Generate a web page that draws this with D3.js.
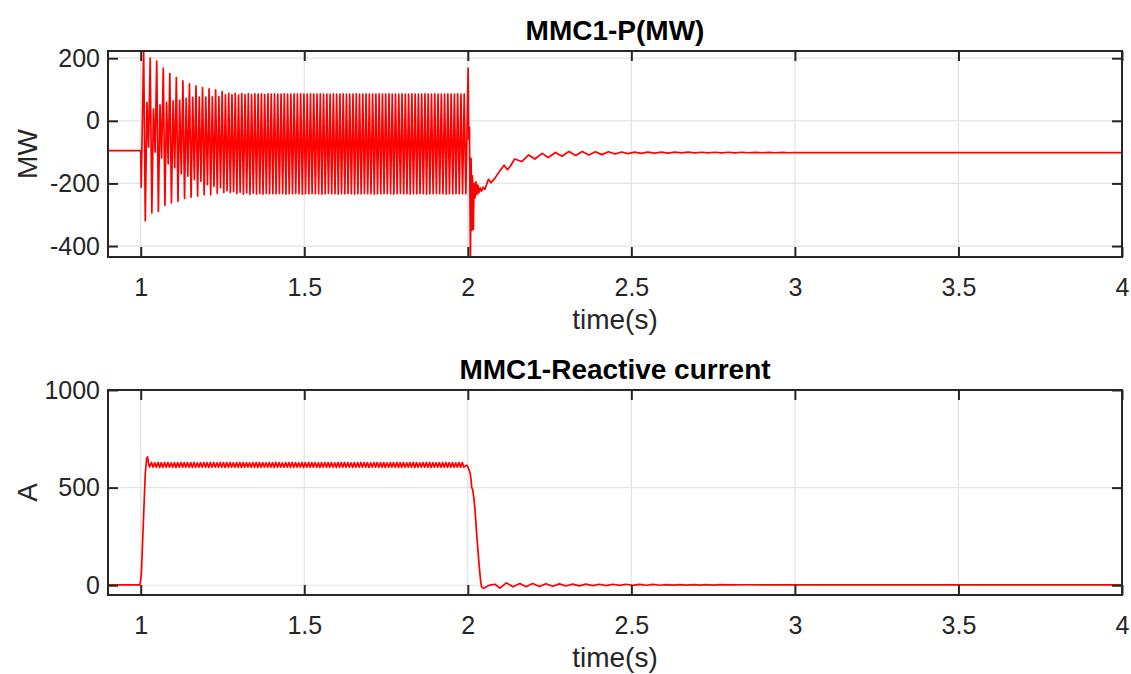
<!DOCTYPE html>
<html>
<head>
<meta charset="utf-8">
<script src="https://cdn.jsdelivr.net/npm/d3@7"></script>
<style>
body { margin: 0; background: #fff; }
svg { font-family: "Liberation Sans", Arial, sans-serif; }
</style>
</head>
<body>
<svg id="fig" width="1131" height="674"></svg>
<script>
// x axis shared by both panels
var xTicks = [1, 1.5, 2, 2.5, 3, 3.5, 4]
var xDomain = [0.9, 4]

// ---- MMC1-P(MW) ----
var pTicks = [-400, -200, 0, 200]
var pDomain = [-435, 223]
var pBefore = [[0.9, -95], [1.0, -95], [1.0015, -212]]
// oscillation 1..2 s, one peak and one trough every 10 ms
var pStart = 1.009, pCycle = 0.01
var pPeaks = [228, 59, 200, 38, 191, 51, 168, 59, 151, 64, 138, 66, 128, 72, 118, 75, 112, 76, 106, 76, 102, 77, 99, 77, 93, 83, 88, 83,
    88, 82, 87, 84, 87, 84, 86, 85, 86, 84, 86, 85,
    86, 85, 85, 86, 85, 85, 86, 85, 86, 85, 85, 86,
    85, 85, 86, 85, 85, 85, 86, 85, 85, 86, 85, 85,
    85, 86, 85, 85, 86, 85, 85, 85, 86, 85, 85, 86,
    85, 85, 85, 86, 85, 85, 86, 85, 85, 85, 86, 85,
    85, 86, 85, 85, 85, 86, 85, 85, 86, 85, 85]
var pTroughs = [-319, -84, -294, -100, -289, -119, -270, -138, -262, -150, -257, -169, -248, -177, -244, -188, -240, -193, -236, -204, -236, -209, -231, -214, -229, -223, -229,
    -226, -232, -228, -234, -230, -235, -231, -234, -232, -234, -232, -233,
    -233, -233, -232, -233, -234, -233, -233, -232, -233, -234, -233, -233,
    -232, -233, -233, -234, -233, -232, -233, -233, -234, -233, -233, -232,
    -233, -234, -233, -233, -232, -233, -233, -234, -233, -233, -232, -233,
    -233, -234, -233, -232, -233, -233, -234, -233, -233, -232, -233, -234,
    -233, -233, -232, -233, -233, -234, -233, -233, -232, -233, -233, -233]
var pAfter = [[2.001, 168], [2.003, -60], [2.005, -20], [2.008, -450], [2.010, -120], [2.012, -350], [2.014, -175], [2.017, -347],
    [2.019, -200], [2.022, -246], [2.025, -195], [2.028, -236], [2.031, -205], [2.034, -230], [2.038, -214], [2.042, -225],
    [2.047, -212], [2.052, -219], [2.057, -205], [2.063, -187], [2.071, -198], [2.083, -183], [2.097, -161], [2.111, -142],
    [2.121, -156], [2.130, -145], [2.143, -122], [2.165, -130], [2.186, -109], [2.205, -122], [2.227, -104], [2.246, -117],
    [2.268, -101], [2.288, -113], [2.309, -98], [2.330, -111], [2.350, -98], [2.370, -109], [2.390, -99], [2.410, -108],
    [2.430, -99], [2.450, -106], [2.470, -99.5], [2.490, -105], [2.510, -100], [2.530, -104], [2.550, -100], [2.571, -103],
    [2.592, -100], [2.612, -103], [2.633, -100], [2.653, -102.5], [2.674, -100], [2.694, -102.5], [2.715, -100.5], [2.735, -102.5],
    [2.756, -100.5], [2.776, -102.5], [2.797, -100.5], [2.817, -102.5], [2.838, -100.5], [2.858, -102], [2.879, -101], [2.900, -102],
    [2.920, -101], [2.941, -102], [2.961, -101], [2.982, -102], [3.0, -101.5], [3.5, -101.5], [4.0, -101.5]]

// ---- MMC1-Reactive current ----
var iTicks = [0, 500, 1000]
var iDomain = [-50, 1000]
var iBefore = [[0.9, 2], [0.997, 2], [0.999, 12], [1.002, 60], [1.006, 232], [1.010, 403], [1.014, 574], [1.018, 648],
    [1.021, 657], [1.024, 625], [1.027, 606]]
// 100 Hz ripple on the plateau
var iStart = 1.033, iCycle = 0.01
var iPeaks = [629, 627, 628, 628, 629, 628, 627, 628, 628, 629, 628, 628,
    628, 629, 627, 628, 628, 628, 629, 628, 627, 628, 629, 628,
    628, 627, 628, 629, 628, 628, 627, 628, 629, 628, 628, 627,
    628, 628, 629, 628, 627, 628, 628, 629, 628, 627, 628, 628,
    629, 628, 628, 627, 628, 629, 628, 628, 627, 628, 628, 629,
    628, 627, 628, 628, 629, 628, 628, 627, 628, 629, 628, 628,
    627, 628, 628, 629, 628, 628, 627, 628, 629, 628, 627, 628,
    628, 629, 628, 627, 628, 628, 629, 628, 628, 627, 628, 629]
var iTroughs = [604, 605, 603, 604, 604, 605, 604, 603, 604, 605, 604, 604,
    603, 604, 605, 604, 604, 603, 604, 605, 604, 604, 603, 604,
    605, 604, 604, 603, 604, 605, 604, 604, 603, 604, 605, 604,
    604, 603, 604, 605, 604, 604, 603, 604, 605, 604, 603, 604,
    604, 605, 604, 603, 604, 604, 605, 604, 603, 604, 604, 605,
    604, 603, 604, 605, 604, 604, 603, 604, 605, 604, 604, 603,
    604, 605, 604, 603, 604, 604, 605, 604, 603, 604, 605, 604,
    604, 603, 604, 605, 604, 604, 603, 604, 605, 604, 604, 605]
var iAfter = [[1.997, 615], [2.000, 606], [2.004, 590], [2.007, 575], [2.010, 540], [2.012, 500], [2.015, 490], [2.019, 440],
    [2.022, 386], [2.027, 266], [2.031, 180], [2.035, 95], [2.039, 25], [2.042, -8], [2.048, -16], [2.058, -6],
    [2.068, 1], [2.083, 5], [2.098, -15], [2.118, 12], [2.138, -8], [2.159, 9], [2.178, -8], [2.198, 9],
    [2.219, -6], [2.239, 8], [2.260, -5], [2.280, 7], [2.300, -4], [2.320, 6], [2.341, -3], [2.361, 6],
    [2.382, -2], [2.402, 5], [2.423, -2], [2.443, 5], [2.464, -1], [2.484, 5], [2.505, -1], [2.525, 4],
    [2.546, 0], [2.566, 4], [2.587, 0], [2.607, 3.5], [2.628, 0.5], [2.648, 3.5], [2.669, 0.5], [2.690, 3],
    [2.710, 1], [2.730, 3], [2.750, 1], [2.770, 3], [2.800, 1.5], [2.850, 2.5], [3.0, 2], [4.0, 2]]

// stitch before / zigzag / after into one series
function buildSeries(before, start, cycle, peaks, troughs, after) {
    var pts = before.slice()
    for (var i = 0, n = peaks.length; i < n; i++) {
        pts.push([start + i * cycle, peaks[i]])
        if (i < troughs.length) pts.push([start + i * cycle + cycle / 2, troughs[i]])
    }
    return pts.concat(after)
}

var svg = d3.select("#fig")
var left = 108, right = 1122
var tickFont = 25, labelFont = 28

function panel(o) {
    var x = d3.scaleLinear().domain(xDomain).range([left, right])
    var y = d3.scaleLinear().domain(o.yDomain).range([o.bottom, o.top])
    var g = svg.append("g")

    // grid
    g.selectAll("line.gx").data(xTicks).enter().append("line")
        .attr("x1", d => x(d)).attr("x2", d => x(d))
        .attr("y1", o.top).attr("y2", o.bottom)
        .attr("stroke", "#e3e3e3").attr("stroke-width", 1.2)
    g.selectAll("line.gy").data(o.yTicks).enter().append("line")
        .attr("x1", left).attr("x2", right)
        .attr("y1", d => y(d)).attr("y2", d => y(d))
        .attr("stroke", "#e3e3e3").attr("stroke-width", 1.2)

    // data
    var clipId = "clip" + o.id
    g.append("clipPath").attr("id", clipId).append("rect")
        .attr("x", left).attr("y", o.top).attr("width", right - left).attr("height", o.bottom - o.top)
    g.append("path")
        .datum(o.data)
        .attr("clip-path", "url(#" + clipId + ")")
        .attr("fill", "none")
        .attr("stroke", "#ff0000")
        .attr("stroke-width", 1.7)
        .attr("stroke-linejoin", "round")
        .attr("d", d3.line().x(d => x(d[0])).y(d => y(d[1])))

    // axes (ticks point inward, mirrored on top/right)
    var fmt = d3.format("")
    var xb = g.append("g").attr("transform", "translate(0," + o.bottom + ")")
        .call(d3.axisBottom(x).tickValues(xTicks).tickSize(-10).tickSizeOuter(0).tickPadding(21).tickFormat(fmt))
    var xt = g.append("g").attr("transform", "translate(0," + o.top + ")")
        .call(d3.axisTop(x).tickValues(xTicks).tickSize(-10).tickSizeOuter(0).tickFormat(""))
    var yl = g.append("g").attr("transform", "translate(" + left + ",0)")
        .call(d3.axisLeft(y).tickValues(o.yTicks).tickSize(-10).tickSizeOuter(0).tickPadding(8).tickFormat(fmt))
    var yr = g.append("g").attr("transform", "translate(" + right + ",0)")
        .call(d3.axisRight(y).tickValues(o.yTicks).tickSize(-10).tickSizeOuter(0).tickFormat(""))
    ;[xb, xt, yl, yr].forEach(function (a) {
        a.select(".domain").remove()
        a.selectAll(".tick line").attr("stroke", "#262626").attr("stroke-width", 2)
        a.selectAll(".tick text").attr("fill", "#262626").style("font-size", tickFont + "px")
            .style("font-family", "'Liberation Sans', Arial, sans-serif")
        a.attr("font-family", null).attr("font-size", null)
    })
    yl.selectAll(".tick text").text(d => d < 0 ? "-" + Math.abs(d) : d)

    g.append("rect")
        .attr("x", left).attr("y", o.top).attr("width", right - left).attr("height", o.bottom - o.top)
        .attr("fill", "none").attr("stroke", "#262626").attr("stroke-width", 2)

    // title and labels
    g.append("text").attr("x", (left + right) / 2).attr("y", o.top - 11)
        .attr("text-anchor", "middle").style("font-size", labelFont + "px").style("font-weight", "bold")
        .attr("fill", "#000").text(o.title)
    g.append("text").attr("x", (left + right) / 2).attr("y", o.bottom + 72)
        .attr("text-anchor", "middle").style("font-size", labelFont + "px")
        .attr("fill", "#262626").text("time(s)")
    g.append("text").attr("transform", "translate(37," + (o.top + o.bottom) / 2 + ") rotate(-90)")
        .attr("text-anchor", "middle").style("font-size", labelFont + "px")
        .attr("fill", "#262626").text(o.ylabel)
}

panel({
    id: 1, top: 51, bottom: 257, yDomain: pDomain, yTicks: pTicks,
    title: "MMC1-P(MW)", ylabel: "MW",
    data: buildSeries(pBefore, pStart, pCycle, pPeaks, pTroughs, pAfter)
})
panel({
    id: 2, top: 390, bottom: 595, yDomain: iDomain, yTicks: iTicks,
    title: "MMC1-Reactive current", ylabel: "A",
    data: buildSeries(iBefore, iStart, iCycle, iPeaks, iTroughs, iAfter)
})
</script>
</body>
</html>
